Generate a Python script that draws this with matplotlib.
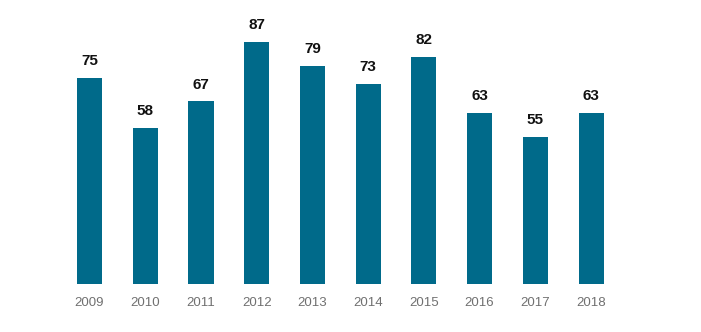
import matplotlib
matplotlib.use("Agg")
import matplotlib.pyplot as plt

years = ["2009", "2010", "2011", "2012", "2013", "2014", "2015", "2016", "2017", "2018"]
values = [75, 58, 67, 87, 79, 73, 82, 63, 55, 63]

plt.rcParams['font.family'] = ['Liberation Sans', 'DejaVu Sans']

fig = plt.figure(figsize=(7.01, 3.32), dpi=100)
ax = fig.add_axes([33.8 / 701, 48 / 332, 613 / 701, 278 / 332])
x = list(range(len(years)))
bars = ax.bar(x, values, width=0.45, color="#006A8A")
ax.set_xlim(-1, 10)
ax.set_ylim(5.5, 99.1)
for xi, v in zip(x, values):
    ax.annotate(str(v), (xi, v), xytext=(0, 7), textcoords="offset points",
                ha="center", va="bottom", fontsize=11, fontweight="bold", color="#111111")
ax.set_xticks(x)
ax.set_xticklabels(years, fontsize=9.5, color="#707070")
ax.tick_params(axis="x", length=0, pad=9)
ax.set_yticks([])
for s in ax.spines.values():
    s.set_visible(False)
fig.savefig("out.png", dpi=100)
